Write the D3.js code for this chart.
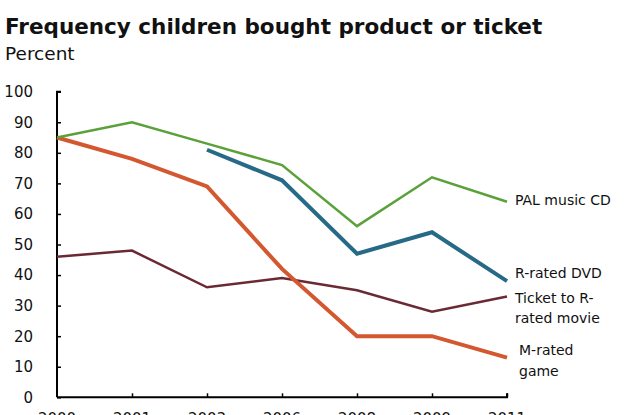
<!DOCTYPE html>
<html><head><meta charset="utf-8">
<script src="https://cdn.jsdelivr.net/npm/d3@7"></script>
<style>body{margin:0;background:#fff;}svg{display:block;}</style>
</head><body>
<svg id="c" width="625" height="415"></svg>
<script>
const years = ["2000","2001","2003","2006","2008","2009","2011"];
const palCD = [85, 90, 83, 76, 56, 72, 64];
const rDVD = [null, null, 81, 71, 47, 54, 38];
const rTicket = [46, 48, 36, 39, 35, 28, 33];
const mGame = [85, 78, 69, 42, 20, 20, 13];
const yTicks = [0,10,20,30,40,50,60,70,80,90,100];

const series = [
  {name:["Ticket to R-","rated movie"], values:rTicket, color:"#6a2a33", width:2.5, lx:515, ly:[298,318]},
  {name:["M-rated","game"], values:mGame, color:"#d4582f", width:4, lx:519, ly:[350,371]},
  {name:["PAL music CD"], values:palCD, color:"#5aa13a", width:2.5, lx:515, ly:[200]},
  {name:["R-rated DVD"], values:rDVD, color:"#276a87", width:4, lx:515, ly:[273]}
];

const svg = d3.select("#c");
const font = "'DejaVu Sans', Verdana, sans-serif";
const x = d3.scalePoint().domain(years).range([57, 507]);
const y = d3.scaleLinear().domain([0,100]).range([397.3, 91.7]);

svg.append("text").attr("x",5).attr("y",34).attr("font-family",font)
  .attr("font-weight","bold").attr("font-size",21.5).attr("fill","#111")
  .text("Frequency children bought product or ticket");
svg.append("text").attr("x",5).attr("y",60).attr("font-family",font)
  .attr("font-size",18.5).attr("fill","#111").text("Percent");

// y axis
const ya = svg.append("g").attr("transform","translate(57,0)")
  .call(d3.axisRight(y).tickValues(yTicks).tickSize(4).tickFormat(""));
ya.select(".domain").attr("d", `M4,${y(100)}H0V${y(0)}`).attr("stroke","#000").attr("stroke-width",2);
ya.selectAll(".tick line").attr("stroke","#000").attr("stroke-width",1.5);
svg.append("g").selectAll("text").data(yTicks).join("text")
  .attr("x",33).attr("y",d=>y(d)).attr("dy","0.36em").attr("text-anchor","end")
  .attr("font-family",font).attr("font-size",15).attr("fill","#111").text(d=>d);

// x axis
const xa = svg.append("g").attr("transform",`translate(0,${y(0)})`)
  .call(d3.axisTop(x).tickSize(4).tickFormat(""));
xa.select(".domain").attr("d", `M57,0H507V-4`).attr("stroke","#000").attr("stroke-width",2);
xa.selectAll(".tick line").attr("stroke","#000").attr("stroke-width",1.5);
xa.selectAll(".tick").filter((d,i)=>i===0).select("line").remove();
svg.append("g").selectAll("text").data(years).join("text")
  .attr("x",d=>x(d)).attr("y",424).attr("text-anchor","middle")
  .attr("font-family",font).attr("font-size",15).attr("fill","#111").text(d=>d);

const line = d3.line().defined(d=>d.v!=null).x(d=>x(d.k)).y(d=>y(d.v));
series.forEach(s=>{
  svg.append("path").datum(years.map((k,i)=>({k, v:s.values[i]})))
    .attr("d", line).attr("fill","none").attr("stroke",s.color)
    .attr("stroke-width",s.width).attr("stroke-linejoin","miter");
  s.name.forEach((t,i)=>{
    svg.append("text").attr("x",s.lx).attr("y",s.ly[i]).attr("dy","0.36em")
      .attr("font-family",font).attr("font-size",14).attr("fill","#111").text(t);
  });
});
</script>
</body></html>
